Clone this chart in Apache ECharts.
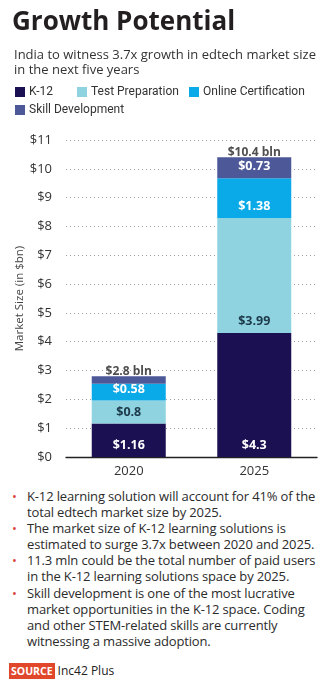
<!DOCTYPE html>
<html>
<head>
<meta charset="utf-8">
<script src="https://cdn.jsdelivr.net/npm/echarts@6/dist/echarts.min.js"></script>
<style>
  html, body { margin: 0; padding: 0; background: #fff; width: 333px; height: 679px; overflow: hidden; }
  #chart { position: absolute; left: 0; top: 0; width: 333px; height: 482px; }
  #notes { position: absolute; left: 0; top: 488px; width: 333px; font-family: "Open Sans", sans-serif; color: #2b2b2b; }
  #notes ul { list-style: none; margin: 0; padding: 0 0 0 27px; }
  #notes li { position: relative; font-size: 13px; line-height: 16.1px; letter-spacing: -0.15px; }
  #notes li::before { content: "\2022"; color: #d9443a; position: absolute; left: -15px; top: 0; font-size: 13px; }
  #source { position: absolute; left: 9px; top: 662px; font-family: "Open Sans", sans-serif; font-size: 12px; color: #222; }
  #source .tag { background: #e1472b; color: #fff; font-weight: bold; font-size: 10.5px; padding: 1px 2px; margin-right: 3px; }
</style>
</head>
<body>
<div id="chart"></div>
<div id="notes">
  <ul>
    <li>K-12 learning solution will account for 41% of the<br>total edtech market size by 2025.</li>
    <li>The market size of K-12 learning solutions is<br>estimated to surge 3.7x between 2020 and 2025.</li>
    <li>11.3 mln could be the total number of paid users<br>in the K-12 learning solutions space by 2025.</li>
    <li>Skill development is one of the most lucrative<br>market opportunities in the K-12 space. Coding<br>and other STEM-related skills are currently<br>witnessing a massive adoption.</li>
  </ul>
</div>
<div id="source"><span class="tag">SOURCE</span>Inc42 Plus</div>
<script>
// Edtech market size in India, $ bn
const years = ['2020', '2025'];
const k12 = [1.16, 4.3];
const testPrep = [0.8, 3.99];
const onlineCert = [0.58, 1.38];
const skillDev = [0.26, 0.73];
const totals = [2.8, 10.4];
const yTicks = [0, 1, 2, 3, 4, 5, 6, 7, 8, 9, 10, 11];

const FONT = '"Open Sans", sans-serif';
const colors = {
  k12: '#1b1052',
  testPrep: '#8fd3e0',
  onlineCert: '#0aa9e8',
  skillDev: '#4c5898'
};

function segLabel(color, showFn) {
  return {
    show: true,
    position: 'insideBottom',
    distance: 5,
    color: color,
    fontFamily: FONT,
    fontWeight: 'bold',
    fontSize: 12.5,
    formatter: p => (showFn && !showFn(p) ? '' : '$' + p.value)
  };
}

function legendItem(name, left, top) {
  return {
    data: [name],
    left: left,
    top: top,
    icon: 'rect',
    itemWidth: 10,
    itemHeight: 10,
    itemGap: 0,
    selectedMode: false,
    textStyle: { fontFamily: 'Roboto, sans-serif', fontSize: 12, color: '#333', padding: [0, 0, 0, -1] }
  };
}

const chart = echarts.init(document.getElementById('chart'), null, { renderer: 'canvas' });
chart.setOption({
  animation: false,
  backgroundColor: '#fff',
  title: [
    {
      text: 'Growth Potential',
      left: 7,
      top: 5,
      textStyle: { fontFamily: FONT, fontWeight: 'bold', fontSize: 26, color: '#231f20' }
    },
    {
      text: 'India to witness 3.7x growth in edtech market size\nin the next five years',
      left: 9,
      top: 43,
      textStyle: { fontFamily: FONT, fontWeight: 'normal', fontSize: 13, lineHeight: 15, color: '#333' }
    }
  ],
  legend: [
    legendItem('K-12', 10, 81),
    legendItem('Test Preparation', 72, 81),
    legendItem('Online Certification', 184, 81),
    legendItem('Skill Development', 10, 99)
  ],
  grid: { left: 66, right: 16, top: 140, bottom: 25 },
  xAxis: {
    type: 'category',
    data: years,
    axisTick: { show: false },
    axisLine: { lineStyle: { color: '#222', width: 1.3 } },
    axisLabel: { fontFamily: FONT, fontSize: 13, color: '#333', margin: 8 }
  },
  yAxis: {
    type: 'value',
    min: yTicks[0],
    max: yTicks[yTicks.length - 1],
    interval: 1,
    name: 'Market Size (in $bn)',
    nameLocation: 'middle',
    nameRotate: 90,
    nameGap: 40,
    nameMoveOverlap: false,
    nameTextStyle: { fontFamily: FONT, fontSize: 11.5, color: '#444' },
    axisLine: { show: false },
    axisTick: { show: false },
    axisLabel: { fontFamily: FONT, fontSize: 13, color: '#333', margin: 14, formatter: v => '$' + v },
    splitLine: { lineStyle: { color: '#a0a0a0', type: [1, 3], width: 1 } }
  },
  series: [
    {
      name: 'K-12', type: 'bar', stack: 'total', barWidth: 74, data: k12,
      itemStyle: { color: colors.k12 },
      label: segLabel('#fff')
    },
    {
      name: 'Test Preparation', type: 'bar', stack: 'total', data: testPrep,
      itemStyle: { color: colors.testPrep },
      label: segLabel('#1d3a4a')
    },
    {
      name: 'Online Certification', type: 'bar', stack: 'total', data: onlineCert,
      itemStyle: { color: colors.onlineCert },
      label: segLabel('#fff')
    },
    {
      name: 'Skill Development', type: 'bar', stack: 'total', data: skillDev,
      itemStyle: { color: colors.skillDev },
      label: segLabel('#fff', p => p.value >= 0.5)
    },
    {
      name: 'Total', type: 'scatter', data: totals, symbolSize: 0,
      silent: true,
      label: {
        show: true, position: 'top', distance: -1,
        fontFamily: FONT, fontWeight: 'bold', fontSize: 12, color: '#222',
        formatter: p => '$' + p.value + ' bln'
      }
    }
  ]
});
</script>
</body>
</html>
